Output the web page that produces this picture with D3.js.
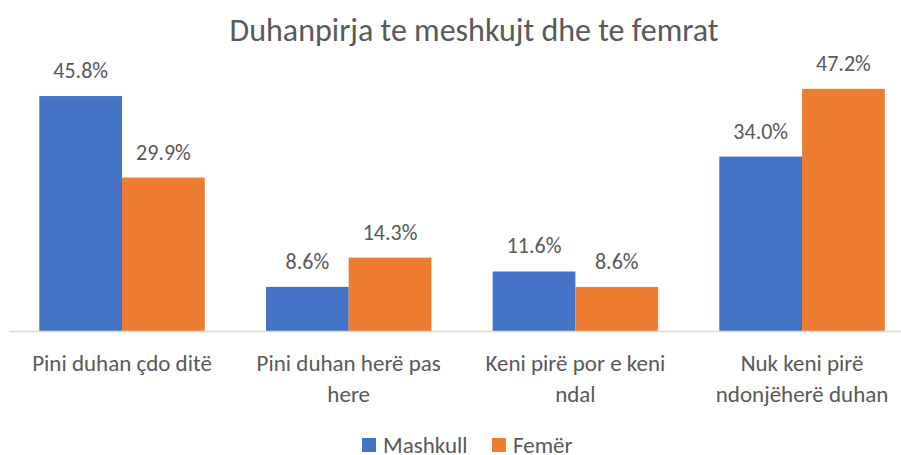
<!DOCTYPE html>
<html lang="sq">
<head>
<meta charset="UTF-8">
<title>Duhanpirja te meshkujt dhe te femrat</title>
<script src="https://d3js.org/d3.v7.min.js"></script>
<style>
  body { margin: 0; background: #fff; }
  svg text { font-family: Carlito, Lato, "Open Sans", sans-serif; fill: #595959; }
</style>
</head>
<body>
<svg id="chart" width="901" height="455"></svg>
<script>
// data
var categories = ["Pini duhan çdo ditë", "Pini duhan herë pas here", "Keni pirë por e keni ndal", "Nuk keni pirë ndonjëherë duhan"];
// how Excel wrapped the category labels
var categoryLines = [["Pini duhan çdo ditë"], ["Pini duhan herë pas", "here"], ["Keni pirë por e keni", "ndal"], ["Nuk keni pirë", "ndonjëherë duhan"]];
var seriesNames = ["Mashkull", "Femër"];
var mashkull = [45.8, 8.6, 11.6, 34.0];
var femer = [29.9, 14.3, 8.6, 47.2];
var colors = ["#4472C4", "#ED7D31"];

var svg = d3.select("#chart"),
    width = +svg.attr("width"),
    height = +svg.attr("height");

var baseY = 331;

var x0 = d3.scaleBand()
    .domain(categories)
    .range([8.7, 915.4])
    .paddingInner(0.27)
    .paddingOuter(0.135);

var x1 = d3.scaleBand()
    .domain(seriesNames)
    .range([0, x0.bandwidth()]);

var y = d3.scaleLinear()
    .domain([0, 50])
    .range([baseY, 74.5]);

var color = d3.scaleOrdinal().domain(seriesNames).range(colors);

var rows = categories.map(function (c, i) {
    return { cat: c, values: [
        { key: "Mashkull", value: mashkull[i] },
        { key: "Femër", value: femer[i] }
    ] };
});

// title
svg.append("text")
    .attr("x", 474)
    .attr("y", 41)
    .attr("text-anchor", "middle")
    .style("font-size", "32px")
    .text("Duhanpirja te meshkujt dhe te femrat");

var groups = svg.append("g")
    .selectAll("g")
    .data(rows)
    .enter()
    .append("g")
    .attr("transform", function (d) { return "translate(" + x0(d.cat) + ",0)"; });

groups.selectAll("rect")
    .data(function (d) { return d.values; })
    .enter()
    .append("rect")
    .attr("x", function (d) { return x1(d.key); })
    .attr("y", function (d) { return y(d.value); })
    .attr("width", x1.bandwidth())
    .attr("height", function (d) { return baseY - y(d.value); })
    .attr("fill", function (d) { return color(d.key); });

// value labels
groups.selectAll("text.val")
    .data(function (d) { return d.values; })
    .enter()
    .append("text")
    .attr("class", "val")
    .attr("x", function (d) { return x1(d.key) + x1.bandwidth() / 2; })
    .attr("y", function (d) { return y(d.value) - 18; })
    .attr("text-anchor", "middle")
    .style("font-size", "22px")
    .text(function (d) { return d.value.toFixed(1) + "%"; });

// axis line
svg.append("line")
    .attr("x1", 9).attr("x2", 916)
    .attr("y1", baseY + 0.5).attr("y2", baseY + 0.5)
    .attr("stroke", "#D9D9D9")
    .attr("stroke-width", 1.5);

// category labels
categories.forEach(function (c, i) {
    var t = svg.append("text")
        .attr("text-anchor", "middle")
        .style("font-size", "23px");
    categoryLines[i].forEach(function (line, j) {
        t.append("tspan")
            .attr("x", x0(c) + x0.bandwidth() / 2)
            .attr("y", 371 + j * 31)
            .text(line);
    });
});

// legend
var legendX = [362, 492];
var legend = svg.append("g")
    .selectAll("g")
    .data(seriesNames)
    .enter()
    .append("g")
    .attr("transform", function (d, i) { return "translate(" + legendX[i] + ",438)"; });

legend.append("rect")
    .attr("width", 14)
    .attr("height", 14)
    .attr("fill", function (d) { return color(d); });

legend.append("text")
    .attr("x", 21)
    .attr("y", 15)
    .style("font-size", "23px")
    .text(function (d) { return d; });
</script>
</body>
</html>
